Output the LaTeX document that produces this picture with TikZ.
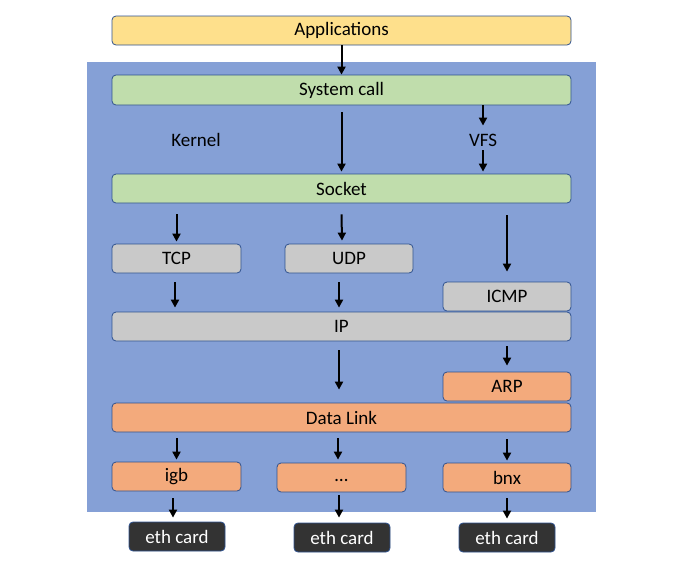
\documentclass[tikz,border=0pt]{standalone}
\usepackage{fontspec}
\setmainfont{Carlito}
\usepackage{xcolor}
\usetikzlibrary{arrows.meta,positioning,calc}

\definecolor{kernelblue}{RGB}{133,160,214}
\definecolor{appyellow}{RGB}{254,224,140}
\definecolor{callgreen}{RGB}{192,221,172}
\definecolor{protogray}{RGB}{201,201,201}
\definecolor{linkorange}{RGB}{243,170,124}
\definecolor{carddark}{RGB}{51,51,51}
\definecolor{edgeblue}{RGB}{47,82,143}

\begin{document}
\begin{tikzpicture}[x=1pt,y=-1pt,
    font=\fontsize{19}{23}\selectfont,
    layer/.style={draw=edgeblue,line width=0.8pt,rounded corners=4pt,
      minimum height=29pt,inner sep=0pt,text=black},
    wide/.style={layer,minimum width=459pt},
    small/.style={layer,minimum width=128pt},
    card/.style={draw=edgeblue,line width=0.8pt,rounded corners=4pt,fill=carddark,
      text=white,minimum width=96pt,minimum height=29pt,inner sep=0pt},
    arr/.style={line width=2pt,-{Triangle[length=8pt,width=8pt]}}]

  \useasboundingbox (0,0) rectangle (700,563);
  % kernel space
  \fill[kernelblue] (87,62) rectangle (596,512);

  \node[wide,fill=appyellow] (apps) at (341.5,30.5) {Applications};
  \node[wide,fill=callgreen,minimum height=30pt] (syscall) at (341.5,90) {System call};
  \node[inner sep=0pt] (kernel) at (196,140) {Kernel};
  \node[inner sep=0pt] (vfs) at (483,140) {VFS};
  \node[wide,fill=callgreen] (socket) at (341.5,188.5) {Socket};

  % protocols
  \node[small,fill=protogray,minimum width=129pt] (tcp) at (176.5,258.5) {TCP};
  \node[small,fill=protogray] (udp) at (349,258.5) {UDP};
  \node[small,fill=protogray] (icmp) at (507,296.5) {ICMP};
  \node[wide,fill=protogray] (ip) at (341.5,326.5) {IP};

  % link layer
  \node[small,fill=linkorange] (arp) at (507,386.5) {ARP};
  \node[wide,fill=linkorange] (dl) at (341.5,417.5) {Data Link};
  \node[small,fill=linkorange,minimum width=129pt] (igb) at (176.5,476.5) {igb};
  \node[small,fill=linkorange,minimum width=129pt] (dots) at (341.5,477.5) {\vphantom{Ag}\ldots};
  \node[small,fill=linkorange] (bnx) at (507,477.5) {bnx};

  % devices
  \node[card] (eth1) at (177,536.5) {eth card};
  \node[card] (eth2) at (342,537.5) {eth card};
  \node[card] (eth3) at (507,537.5) {eth card};

  % arrows
  \draw[arr] (apps.south) -- (syscall.north);
  \draw[arr] ([yshift=-7pt]syscall.south) -- ([yshift=2pt]socket.north);
  \draw[arr] (syscall.south -| vfs) -- ([yshift=8pt]vfs.north);
  \draw[arr] ([yshift=-4pt]vfs.south) -- ([yshift=2pt]socket.north -| vfs);

  \draw[arr] ([yshift=-11pt]socket.south -| tcp) -- ([yshift=2pt]tcp.north);
  \draw[arr] ([yshift=-11pt]socket.south) -- ([xshift=-7pt,yshift=3pt]udp.north);
  \draw[arr] ([yshift=-12pt]socket.south -| icmp) -- ([yshift=10pt]icmp.north);

  \draw[arr] ([xshift=-1.5pt,yshift=-9pt]tcp.south) -- ([xshift=-1.5pt,yshift=4pt]tcp.south |- ip.north);
  \draw[arr] ([xshift=-10pt,yshift=-9pt]udp.south) -- ([xshift=-10pt,yshift=4pt]udp.south |- ip.north);
  \draw[arr] ([yshift=-5pt]ip.south -| arp) -- ([yshift=6pt]arp.north);
  \draw[arr] ([xshift=-2.5pt,yshift=-9pt]ip.south) -- ([xshift=-2.5pt,yshift=13pt]dl.north);

  \draw[arr] ([yshift=-6pt]dl.south -| igb) -- ([yshift=2pt]igb.north);
  \draw[arr] ([xshift=-3.5pt,yshift=-6pt]dl.south) -- ([xshift=-3.5pt,yshift=3pt]dots.north);
  \draw[arr] ([yshift=-7pt]dl.south -| bnx) -- ([yshift=2pt]bnx.north);

  \draw[arr] ([xshift=-3.5pt,yshift=-7pt]igb.south) -- ([xshift=-4pt,yshift=4pt]eth1.north);
  \draw[arr] ([xshift=-2.5pt,yshift=-3pt]dots.south) -- ([xshift=-3pt,yshift=5pt]eth2.north);
  \draw[arr] ([yshift=-6pt]bnx.south) -- ([yshift=4pt]eth3.north);
\end{tikzpicture}
\end{document}
